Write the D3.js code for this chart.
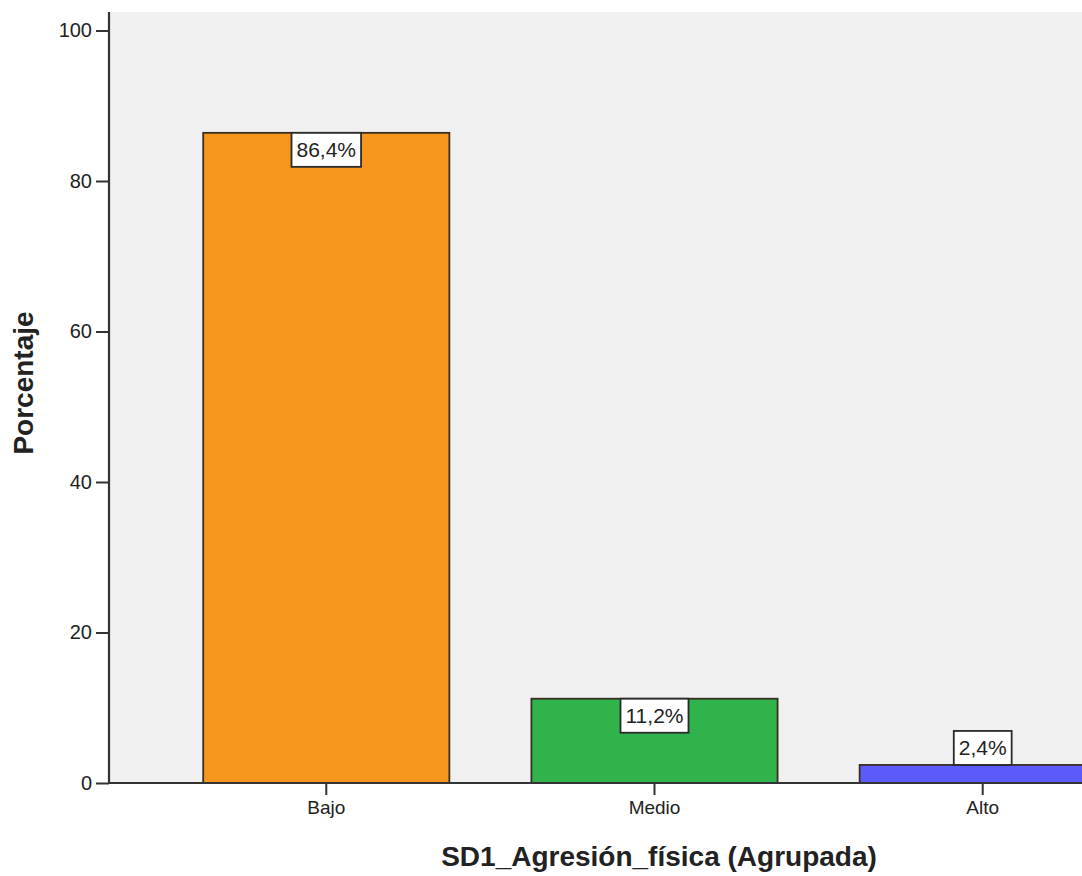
<!DOCTYPE html>
<html>
<head>
<meta charset="utf-8">
<script src="https://cdn.jsdelivr.net/npm/d3@7"></script>
<style>
  html, body { margin: 0; padding: 0; background: #ffffff; }
  svg { display: block; }
  text { font-family: "Liberation Sans", Arial, sans-serif; fill: #222; }
</style>
</head>
<body>
<svg id="chart" width="1082" height="876"></svg>
<script>
// Frequency of physical aggression levels (percent)
const categories = ["Bajo", "Medio", "Alto"];
const percentages = [86.4, 11.2, 2.4];
const valueLabels = ["86,4%", "11,2%", "2,4%"];
const barColors = ["#f7961d", "#2fb34a", "#5b5bfb"];
const yTicks = [0, 20, 40, 60, 80, 100];

(function drawChart() {
  const svg = d3.select("#chart");
  const W = 1082;

  // Plot frame (extends past the right edge of the canvas)
  const plotLeft = 109, plotRight = 1200, plotTop = 12, plotBottom = 783;

  const x = d3.scaleBand()
    .domain(categories)
    .range([plotLeft, plotRight])
    .paddingInner(0.25)
    .paddingOuter(0.287);

  const y = d3.scaleLinear()
    .domain([0, 100])
    .range([plotBottom, 30.5]);

  // Plot background
  svg.append("rect")
    .attr("x", plotLeft).attr("y", plotTop)
    .attr("width", W - plotLeft).attr("height", plotBottom - plotTop)
    .attr("fill", "#f0f0f0");

  // Bars
  svg.append("g").selectAll("rect")
    .data(categories)
    .join("rect")
    .attr("x", d => x(d))
    .attr("y", (d, i) => y(percentages[i]))
    .attr("width", x.bandwidth())
    .attr("height", (d, i) => y(0) - y(percentages[i]))
    .attr("fill", (d, i) => barColors[i])
    .attr("stroke", "#3a2e22")
    .attr("stroke-width", 1.8);

  // Y axis
  const yAxis = svg.append("g")
    .attr("transform", `translate(${plotLeft},0)`)
    .call(d3.axisLeft(y).tickValues(yTicks).tickSize(13).tickPadding(4).tickFormat(d3.format("d")));
  yAxis.select(".domain").remove();
  yAxis.selectAll(".tick line").attr("stroke", "#333").attr("stroke-width", 2);
  yAxis.selectAll(".tick text")
    .style("font-family", "'Liberation Sans', Arial, sans-serif")
    .style("font-size", "20px")
    .attr("fill", "#222");
  svg.append("line")
    .attr("x1", plotLeft).attr("x2", plotLeft)
    .attr("y1", plotTop).attr("y2", plotBottom + 1)
    .attr("stroke", "#333").attr("stroke-width", 2.2);

  // X axis
  const xAxis = svg.append("g")
    .attr("transform", `translate(0,${plotBottom})`)
    .call(d3.axisBottom(x).tickSize(12).tickPadding(6));
  xAxis.select(".domain").remove();
  xAxis.selectAll(".tick line").attr("stroke", "#333").attr("stroke-width", 2);
  xAxis.selectAll(".tick text")
    .style("font-family", "'Liberation Sans', Arial, sans-serif")
    .style("font-size", "19px")
    .attr("fill", "#222");
  svg.append("line")
    .attr("x1", plotLeft).attr("x2", W)
    .attr("y1", plotBottom).attr("y2", plotBottom)
    .attr("stroke", "#333").attr("stroke-width", 2);

  // Value labels in white boxes
  const boxH = 34, padX = 5;
  svg.append("g").selectAll("g")
    .data(categories)
    .join("g")
    .each(function (d, i) {
      const g = d3.select(this);
      const cx = x(d) + x.bandwidth() / 2;
      const yTop = y(percentages[i]);
      const barH = y(0) - yTop;
      const boxY = barH > boxH + 4 ? yTop : yTop - boxH;
      const rect = g.append("rect");
      const t = g.append("text")
        .attr("x", cx)
        .attr("y", boxY + boxH / 2)
        .attr("text-anchor", "middle")
        .attr("dominant-baseline", "central")
        .style("font-size", "21px")
        .text(valueLabels[i]);
      const w = t.node().getComputedTextLength() + padX * 2;
      rect.attr("x", cx - w / 2).attr("y", boxY)
        .attr("width", w).attr("height", boxH)
        .attr("fill", "#ffffff")
        .attr("stroke", "#2a2a2a")
        .attr("stroke-width", 1.8);
    });

  // Axis titles
  svg.append("text")
    .attr("transform", "translate(33,383) rotate(-90)")
    .attr("text-anchor", "middle")
    .style("font-size", "28px")
    .style("font-weight", "bold")
    .text("Porcentaje");

  svg.append("text")
    .attr("x", 659)
    .attr("y", 866)
    .attr("text-anchor", "middle")
    .style("font-size", "28px")
    .style("font-weight", "bold")
    .text("SD1_Agresión_física (Agrupada)");
})();
</script>
</body>
</html>
